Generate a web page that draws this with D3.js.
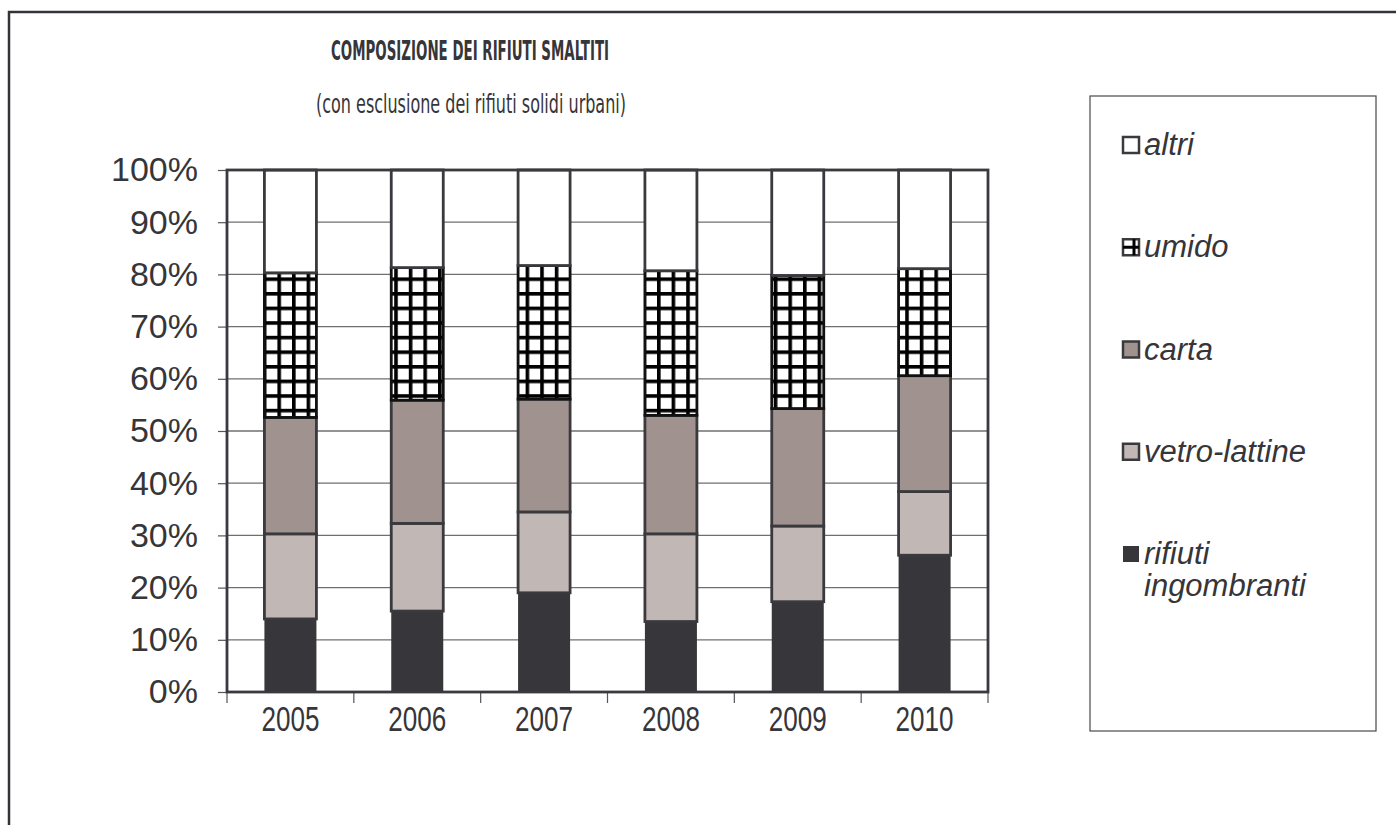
<!DOCTYPE html>
<html>
<head>
<meta charset="utf-8">
<script src="https://cdn.jsdelivr.net/npm/d3@7"></script>
<style>
  html, body { margin: 0; padding: 0; background: #fff; }
  svg { display: block; }
</style>
</head>
<body>
<svg id="chart" width="1396" height="825"></svg>
<script>
// ---- data (percent of total, per year) ----
const years = ["2005", "2006", "2007", "2008", "2009", "2010"];
const rifiutiIngombranti = [14.0, 15.5, 19.0, 13.5, 17.3, 26.2];
const vetroLattine      = [16.3, 16.8, 15.5, 16.8, 14.5, 12.2];
const carta             = [22.3, 23.6, 21.6, 22.7, 22.5, 22.2];
const umido             = [27.7, 25.4, 25.6, 27.7, 25.5, 20.5];
const altri             = [19.7, 18.7, 18.3, 19.3, 20.2, 18.9];
const seriesKeys  = ["ingombranti", "vetro", "carta", "umido", "altri"];
const seriesNames = ["rifiuti ingombranti", "vetro-lattine", "carta", "umido", "altri"];
const yTicks = [0, 10, 20, 30, 40, 50, 60, 70, 80, 90, 100];
const titleText = "COMPOSIZIONE DEI RIFIUTI SMALTITI";
const subtitleText = "(con esclusione dei rifiuti solidi urbani)";

const table = years.map((yr, i) => ({
  year: yr,
  ingombranti: rifiutiIngombranti[i],
  vetro: vetroLattine[i],
  carta: carta[i],
  umido: umido[i],
  altri: altri[i]
}));

const svg = d3.select("#chart");
const textColor = "#363539";
const lineColor = "#3a393d";

// pattern for "umido"
const defs = svg.append("defs");
const cell = 14.6;
const pat = defs.append("pattern")
  .attr("id", "grid").attr("patternUnits", "userSpaceOnUse")
  .attr("width", cell).attr("height", cell);
pat.append("rect").attr("width", cell).attr("height", cell).attr("fill", "#fff");
pat.append("rect").attr("x", 0).attr("y", 0).attr("width", 3.6).attr("height", cell).attr("fill", "#000");
pat.append("rect").attr("x", 0).attr("y", 0).attr("width", cell).attr("height", 3.6).attr("fill", "#000");

const fills = {
  ingombranti: "#37363b",
  vetro: "#c1b7b4",
  carta: "#a0928e",
  umido: "url(#grid)",
  altri: "#ffffff"
};

// outer frame
svg.append("rect").attr("x", 9).attr("y", 12).attr("width", 1500).attr("height", 900)
  .attr("fill", "none").attr("stroke", "#343338").attr("stroke-width", 2.5);

const pLeft = 227, pRight = 988, pTop = 170, pBottom = 692;

const x = d3.scaleBand().domain(years).range([pLeft, pRight]).padding(0);
const y = d3.scaleLinear().domain([0, 100]).range([pBottom, pTop]);
const barW = x.bandwidth() * 0.41;

// gridlines
svg.append("g").selectAll("line").data(yTicks.filter(t => t > 0 && t < 100)).join("line")
  .attr("x1", pLeft).attr("x2", pRight)
  .attr("y1", d => y(d)).attr("y2", d => y(d))
  .attr("stroke", "#6f6f6f").attr("stroke-width", 1.3);

// y axis
const yAxis = d3.axisLeft(y).tickValues(yTicks).tickFormat(d => d + "%").tickSize(9).tickPadding(20);
const gy = svg.append("g").attr("transform", `translate(${pLeft},0)`).call(yAxis);
gy.select(".domain").remove();
gy.selectAll(".tick line").attr("stroke", "#555").attr("stroke-width", 1.2);
gy.selectAll(".tick text").attr("fill", textColor)
  .style("font-family", "'Liberation Sans', Arial, sans-serif").style("font-size", "34px");

// x axis (ticks at category boundaries)
const boundaries = years.map(yr => x(yr)).concat([pRight]);
svg.append("g").selectAll("line").data(boundaries).join("line")
  .attr("x1", d => d).attr("x2", d => d).attr("y1", pBottom).attr("y2", pBottom + 11)
  .attr("stroke", "#555").attr("stroke-width", 1.2);
const xAxis = d3.axisBottom(x).tickSize(0).tickPadding(14);
const gx = svg.append("g").attr("transform", `translate(0,${pBottom})`).call(xAxis);
gx.select(".domain").remove();
gx.selectAll(".tick text").attr("fill", textColor)
  .attr("textLength", 58).attr("lengthAdjust", "spacingAndGlyphs")
  .style("font-family", "'Liberation Sans', Arial, sans-serif").style("font-size", "35px");

// stacked bars
const stack = d3.stack().keys(seriesKeys);
const stacked = stack(table);
const gBars = svg.append("g");
stacked.forEach(layer => {
  gBars.append("g").selectAll("rect").data(layer).join("rect")
    .attr("x", d => x(d.data.year) + (x.bandwidth() - barW) / 2)
    .attr("width", barW)
    .attr("y", d => y(d[1]))
    .attr("height", d => y(d[0]) - y(d[1]))
    .attr("fill", fills[layer.key])
    .attr("stroke", layer.key === "umido" ? "#111" : lineColor)
    .attr("stroke-width", layer.key === "ingombranti" ? 0 : 2.8);
});

// plot frame
svg.append("rect").attr("x", pLeft).attr("y", pTop).attr("width", pRight - pLeft).attr("height", pBottom - pTop)
  .attr("fill", "none").attr("stroke", lineColor).attr("stroke-width", 2.8);

// title
svg.append("text").attr("x", 470).attr("y", 60).attr("text-anchor", "middle")
  .attr("fill", textColor).style("font-family", "'DejaVu Sans Condensed', 'DejaVu Sans', sans-serif")
  .attr("textLength", 278).attr("lengthAdjust", "spacingAndGlyphs")
  .style("font-weight", "bold").style("font-size", "27px").text(titleText);
svg.append("text").attr("x", 471).attr("y", 113).attr("text-anchor", "middle")
  .attr("fill", textColor).style("font-family", "'DejaVu Sans Condensed', 'DejaVu Sans', sans-serif")
  .attr("textLength", 310).attr("lengthAdjust", "spacingAndGlyphs")
  .style("font-size", "27px").text(subtitleText);

// legend
svg.append("rect").attr("x", 1090).attr("y", 96).attr("width", 286).attr("height", 635)
  .attr("fill", "#fff").attr("stroke", "#4a494d").attr("stroke-width", 1.2);
const legendOrder = ["altri", "umido", "carta", "vetro", "ingombranti"];
const legendY = d3.scalePoint().domain(legendOrder).range([145, 554]);
legendOrder.forEach(k => {
  const cy = legendY(k);
  const g = svg.append("g");
  g.append("rect").attr("x", 1123).attr("y", cy - 8).attr("width", 16).attr("height", 16)
    .attr("fill", k === "umido" ? "#fff" : fills[k])
    .attr("stroke", k === "ingombranti" ? "none" : lineColor).attr("stroke-width", 2.5);
  if (k === "umido") {
    g.append("line").attr("x1", 1123).attr("x2", 1139).attr("y1", cy).attr("y2", cy)
      .attr("stroke", "#000").attr("stroke-width", 3);
    g.append("line").attr("x1", 1134).attr("x2", 1134).attr("y1", cy - 8).attr("y2", cy + 8)
      .attr("stroke", "#000").attr("stroke-width", 3);
  }
  const name = seriesNames[seriesKeys.indexOf(k)];
  const lines = k === "ingombranti" ? ["rifiuti", "ingombranti"] : [name];
  lines.forEach((ln, j) => {
    g.append("text").attr("x", 1144).attr("y", cy + 10 + j * 32)
      .attr("fill", textColor)
      .style("font-family", "'Liberation Sans', Arial, sans-serif")
      .style("font-style", "italic").style("font-size", "31px").text(ln);
  });
});
</script>
</body>
</html>
